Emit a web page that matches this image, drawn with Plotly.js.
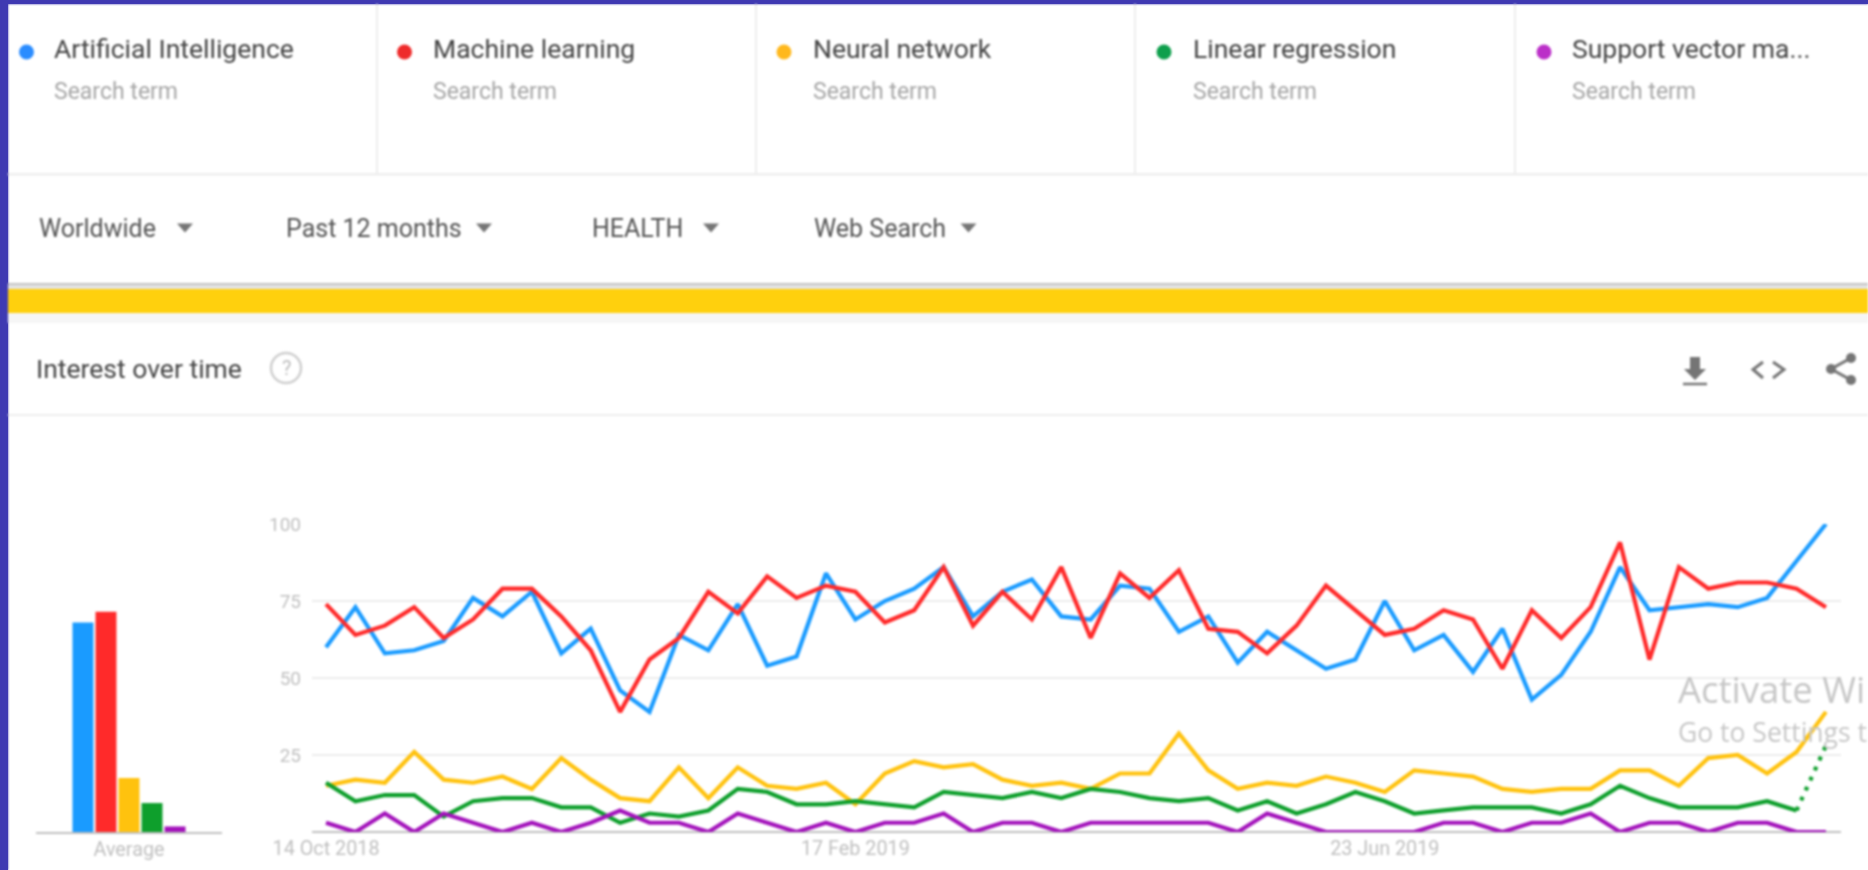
<!DOCTYPE html>
<html>
<head>
<meta charset="utf-8">
<script src="https://cdn.plot.ly/plotly-3.0.1.min.js"></script>
<style>
html,body{margin:0;padding:0;overflow:hidden}
html{background:#fff}
body{width:1868px;height:870px;background:linear-gradient(to right,#3f3ab2 8px,transparent 8px),linear-gradient(to bottom,#3f3ab2 4px,#fff 4px)}
#chart{width:1868px;height:870px;filter:blur(1px)}
</style>
</head>
<body>
<div id="chart"></div>
<script>
const weeks = ["2018-10-14","2018-10-21","2018-10-28","2018-11-04","2018-11-11","2018-11-18","2018-11-25","2018-12-02","2018-12-09","2018-12-16","2018-12-23","2018-12-30","2019-01-06","2019-01-13","2019-01-20","2019-01-27","2019-02-03","2019-02-10","2019-02-17","2019-02-24","2019-03-03","2019-03-10","2019-03-17","2019-03-24","2019-03-31","2019-04-07","2019-04-14","2019-04-21","2019-04-28","2019-05-05","2019-05-12","2019-05-19","2019-05-26","2019-06-02","2019-06-09","2019-06-16","2019-06-23","2019-06-30","2019-07-07","2019-07-14","2019-07-21","2019-07-28","2019-08-04","2019-08-11","2019-08-18","2019-08-25","2019-09-01","2019-09-08","2019-09-15","2019-09-22","2019-09-29","2019-10-06"];
const artificialIntelligence = [60,73,58,59,62,76,70,78,58,66,46,39,64,59,74,54,57,84,69,75,79,86,70,78,82,70,69,80,79,65,70,55,65,59,53,56,75,59,64,52,66,43,51,65,86,72,73,74,73,76,88,100];
const machineLearning = [74,64,67,73,63,69,79,79,70,59,39,56,63,78,71,83,76,80,78,68,72,86,67,78,69,86,63,84,76,85,66,65,58,67,80,72,64,66,72,69,53,72,63,73,94,56,86,79,81,81,79,73];
const neuralNetwork = [15,17,16,26,17,16,18,14,24,17,11,10,21,11,21,15,14,16,9,19,23,21,22,17,15,16,14,19,19,32,20,14,16,15,18,16,13,20,19,18,14,13,14,14,20,20,15,24,25,19,26,39];
const linearRegression = [16,10,12,12,5,10,11,11,8,8,3,6,5,7,14,13,9,9,10,9,8,13,12,11,13,11,14,13,11,10,11,7,10,6,9,13,10,6,7,8,8,8,6,9,15,11,8,8,8,10,7,28];
const supportVector = [3,0,6,0,6,3,0,3,0,3,7,3,3,0,6,3,0,3,0,3,3,6,0,3,3,0,3,3,3,3,3,0,6,3,0,0,0,0,3,3,0,3,3,6,0,3,3,0,3,3,0,0];
const averages = [68,71.5,17.5,9.4,1.8];
const terms = ["Artificial Intelligence","Machine learning","Neural network","Linear regression","Support vector ma..."];
const dateTicks = ["2018-10-14","2019-02-17","2019-06-23"];
const yTicks = [25,50,75,100];
const filters = ["Worldwide","Past 12 months","HEALTH","Web Search"];

const colors = ["#1a9bff","#ff2a2a","#ffc20e","#0e9f2c","#a313bb"];
const dotColors = ["#2a8cff","#ee2a2a","#ffb81c","#0e9f4c","#bb2fc8"];
const W = 1868, H = 870;
const px = x => x / W, py = y => 1 - y / H;
const P = (x, y) => px(x) + "," + py(y);
const FONT = "Roboto, sans-serif";

function rect(x0, y0, x1, y1, c) {
  return {type:"rect", xref:"paper", yref:"paper", x0:px(x0), x1:px(x1), y0:py(y0), y1:py(y1), fillcolor:c, line:{width:0}, layer:"below"};
}
function circle(cx, cy, r, c, lineC, lw) {
  return {type:"circle", xref:"paper", yref:"paper", x0:px(cx-r), x1:px(cx+r), y0:py(cy-r), y1:py(cy+r), fillcolor:c, line:{width:lw||0, color:lineC||c}};
}
function poly(points, fill, stroke, lw, closed) {
  return {type:"path", xref:"paper", yref:"paper",
    path:"M" + points.map(p => P(p[0], p[1])).join(" L") + (closed ? " Z" : ""),
    fillcolor: fill || "rgba(0,0,0,0)", line:{width:lw||0, color:stroke||"rgba(0,0,0,0)"}};
}
function label(text, x, y, size, color, family, anchor) {
  return {text:text, xref:"paper", yref:"paper", x:px(x), y:py(y), xanchor:anchor||"left", yanchor:"middle",
    showarrow:false, font:{family:family||FONT, size:size, color:color}, borderpad:0, borderwidth:0};
}

const shapes = [
  rect(0,0,8,H,"#3f3ab2"), rect(0,0,W,4,"#3f3ab2"),
  rect(8,173,W,175.5,"#eeeeee"),
  rect(376,4,378,174,"#eeeeee"), rect(755,4,757,174,"#eeeeee"), rect(1134,4,1136,174,"#eeeeee"), rect(1514,4,1516,174,"#eeeeee"),
  rect(8,283,W,285,"#c4c4c4"), rect(8,285,W,289,"#e4e4e4"),
  rect(8,289,W,313,"#ffd00d"), rect(8,313,W,323,"#f6f6f6"),
  rect(8,414,W,416,"#eeeeee")
];
const dotX = [26.5,404.5,784,1164,1544];
const textX = [54,433,813,1192.5,1572];
const annotations = [];
terms.forEach((t,i) => {
  shapes.push(circle(dotX[i],52,7.5,dotColors[i]));
  annotations.push(label(t,textX[i],49,26.5,"#444444"));
  annotations.push(label("Search term",textX[i],91.5,23,"#a6a6a6"));
});
const filterX = [39,286,592,813.5], arrowX = [185,484,711,968.5];
filters.forEach((t,i) => {
  annotations.push(label(t,filterX[i],228.5,25,"#555555"));
  shapes.push(poly([[arrowX[i]-8,223.5],[arrowX[i]+8,223.5],[arrowX[i],232.5]],"#757575",null,0,true));
});
annotations.push(label("Interest over time",35.5,368,26.5,"#444444"));
shapes.push(circle(286,368,15,"rgba(0,0,0,0)","#cfcfcf",2.5));
annotations.push(label("?",286,368,20,"#bdbdbd",FONT,"center"));
// toolbar icons
shapes.push(poly([[1690,357],[1700,357],[1700,369],[1706,369],[1695,380],[1684,369],[1690,369]],"#757575",null,0,true));
shapes.push(poly([[1683,384],[1707,384]],null,"#757575",2.5));
shapes.push(poly([[1763,362],[1753,369.5],[1763,378]],null,"#757575",3));
shapes.push(poly([[1773,362],[1784,369.5],[1773,378]],null,"#757575",3));
shapes.push(poly([[1851,358],[1831,369],[1851,380]],null,"#757575",3));
shapes.push(circle(1851,358,5,"#757575"), circle(1831,369,5,"#757575"), circle(1851,380,5,"#757575"));
// desktop watermark
annotations.push(label("Activate Wi",1678,689,36.5,"#c6c6c6","Open Sans"));
annotations.push(label("Go to Settings t",1678,732,26.5,"#c6c6c6","Open Sans"));

function line(y, i, name) {
  return {type:"scatter", mode:"lines", x:weeks, y:y, name:name, cliponaxis:false,
    line:{color:colors[i], width:4.2, shape:"linear"}, xaxis:"x", yaxis:"y"};
}
const traces = [
  line(artificialIntelligence,0,terms[0]),
  line(machineLearning,1,terms[1]),
  line(neuralNetwork,2,terms[2]),
  line(linearRegression.slice(0,51),3,terms[3]),
  Object.assign(line(linearRegression.slice(50),3,terms[3]), {x:weeks.slice(50), line:{color:colors[3],width:4.2,dash:"4px,7px"}}),
  line(supportVector,4,terms[4]),
  {type:"bar", x:terms, y:averages, marker:{color:colors, line:{width:0}}, xaxis:"x2", yaxis:"y2", name:"Average"}
];

const tickFont = {family:FONT, size:19.8, color:"#bfbfbf"};
const layout = {
  width:W, height:H, margin:{l:0,r:0,t:0,b:0}, paper_bgcolor:"rgba(0,0,0,0)", plot_bgcolor:"rgba(0,0,0,0)",
  showlegend:false, bargap:0.09, shapes:shapes, annotations:annotations, font:{family:FONT},
  xaxis:{type:"date", domain:[px(312),px(1841)], range:["2018-10-10 16:00","2019-10-09 14:00"],
    tickvals:dateTicks, tickformat:"%d %b %Y", showgrid:false, zeroline:false, showline:false, ticks:"", tickfont:tickFont, ticklabelstandoff:2, anchor:"y"},
  yaxis:{domain:[py(832),py(524)], range:[0,100], tickvals:yTicks, gridcolor:"#ececec", gridwidth:2,
    zeroline:true, zerolinecolor:"#c0c0c0", zerolinewidth:2, showline:false, ticks:"", tickfont:Object.assign({},tickFont,{size:19}), ticklabelstandoff:10, anchor:"x"},
  xaxis2:{type:"category", domain:[px(36),px(222)], range:[-2.04,6.04], tickvals:[terms[2]], ticktext:["Average"],
    showgrid:false, zeroline:false, showline:true, linecolor:"#c0c0c0", linewidth:2, ticks:"", tickfont:tickFont, ticklabelstandoff:-2, anchor:"y2"},
  yaxis2:{domain:[py(832),py(524)], range:[0,100], visible:false, anchor:"x2"}
};
Plotly.newPlot("chart", traces, layout, {displayModeBar:false, staticPlot:true});
</script>
</body>
</html>
